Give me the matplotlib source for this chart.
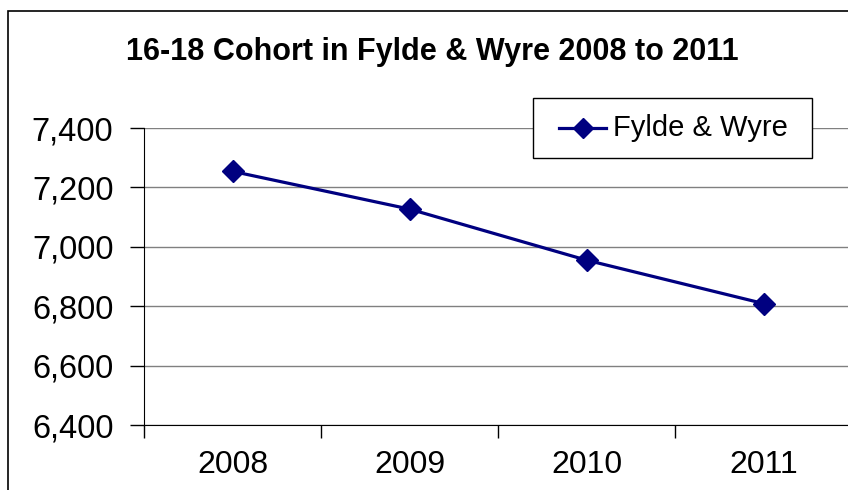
import matplotlib.pyplot as plt
from matplotlib.lines import Line2D
from matplotlib.patches import Rectangle
from matplotlib.ticker import FuncFormatter, MultipleLocator

plt.rcParams["font.family"] = ["Liberation Sans", "DejaVu Sans"]

# Chart data
years = ["2008", "2009", "2010", "2011"]
cohort = [7254, 7127, 6955, 6809]
series_name = "Fylde & Wyre"
title = "16-18 Cohort in Fylde & Wyre 2008 to 2011"

W, H = 848, 490
LINE_COLOR = "#000080"


def fx(px):
    return px / W


def fy(py):
    return 1 - py / H


fig = plt.figure(figsize=(W / 100, H / 100), dpi=100)

# outer chart border (runs off the right and bottom edges)
fig.patches.append(Rectangle((fx(8), -0.05), 1.0, 1.05 - 11 / H,
                             transform=fig.transFigure, fill=False,
                             edgecolor="black", linewidth=1.2))

ax = fig.add_axes([fx(144), 65 / H, 708 / W, 297 / H])
x = list(range(len(years)))
ax.plot(x, cohort, color=LINE_COLOR, linewidth=2.3, marker="D",
        markersize=11, markeredgecolor=LINE_COLOR, markerfacecolor=LINE_COLOR,
        label=series_name, zorder=3, clip_on=False)

ax.set_xlim(-0.5, len(years) - 0.5)
ax.set_ylim(6400, 7400)
ax.yaxis.set_major_locator(MultipleLocator(200))
ax.yaxis.set_major_formatter(FuncFormatter(lambda v, p: f"{int(v):,}"))
ax.set_xticks([i - 0.5 for i in range(len(years))])
ax.set_xticklabels([])
ax.set_xticks(x, minor=True)
ax.set_xticklabels(years, minor=True)
ax.tick_params(axis="x", which="minor", length=0, labelsize=23, pad=18)
ax.tick_params(axis="x", which="major", length=9, width=1, direction="out")
ax.tick_params(axis="y", length=10, width=1, labelsize=23.5, pad=12)

ax.grid(axis="y", color="#808080", linewidth=1)
for side in ["top", "right"]:
    ax.spines[side].set_visible(False)
ax.set_axisbelow(True)

fig.text(fx(432), fy(52), title, ha="center", va="center",
         fontsize=22, fontweight="bold")

# legend box, drawn by hand to get Excel-like padding
fig.patches.append(Rectangle((fx(533), fy(158)), fx(812) - fx(533),
                             fy(98) - fy(158), transform=fig.transFigure,
                             facecolor="white", edgecolor="black",
                             linewidth=1, zorder=5))
fig.lines.append(Line2D([fx(559), fx(606)], [fy(128), fy(128)],
                        transform=fig.transFigure, color=LINE_COLOR,
                        linewidth=2.3, zorder=6))
fig.lines.append(Line2D([fx(582.5)], [fy(128)], transform=fig.transFigure,
                        color=LINE_COLOR, marker="D", markersize=10,
                        zorder=6))
fig.text(fx(613), fy(128), series_name, ha="left", va="center",
         fontsize=21, zorder=7)

fig.savefig("out.png", dpi=100)
